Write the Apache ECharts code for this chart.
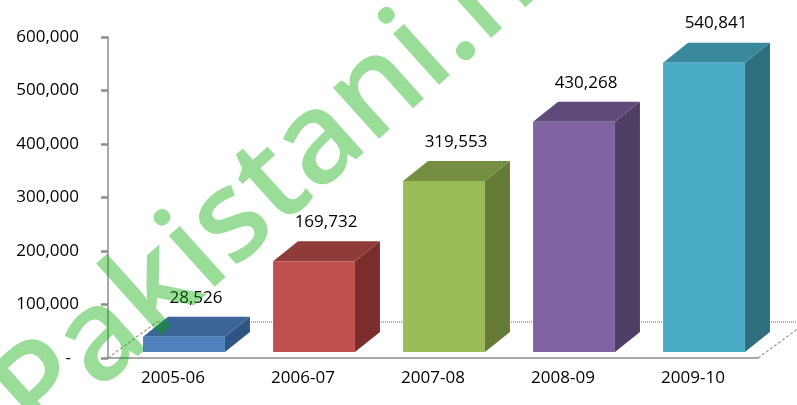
<!DOCTYPE html>
<html>
<head>
<meta charset="utf-8">
<title>Column chart</title>
<style>
  html, body { margin: 0; padding: 0; background: #fff; }
  #main { width: 797px; height: 405px; }
</style>
</head>
<body>
<div id="main"></div>
<script src="https://cdn.jsdelivr.net/npm/echarts@6/dist/echarts.min.js"></script>
<script>
// data
var years = ['2005-06', '2006-07', '2007-08', '2008-09', '2009-10'];
var values = [28526, 169732, 319553, 430268, 540841];
var yTicks = [0, 100000, 200000, 300000, 400000, 500000, 600000];

// front / top / side colours of each 3D column
var frontColors = ['#4f81bd', '#c0504d', '#9bbb59', '#8064a2', '#4bacc6'];
var topColors   = ['#3c6598', '#8f3b39', '#758e42', '#5f4b7b', '#3a889c'];
var sideColors  = ['#2f5383', '#7a2d2b', '#647a36', '#4e3e66', '#2f6e7f'];

var font = '"Open Sans", "Noto Sans", sans-serif';
var myChart = echarts.init(document.getElementById('main'));

function fmt(v) {
  return v.toLocaleString('en-US');
}

// one column: front face, top face, side face, value label
function renderBar(params, api) {
  var i = api.value(0);
  var v = api.value(1);
  var base = api.coord([i, 0]);
  var top = api.coord([i, v]);
  var band = api.size([1, 0])[0];
  var w = band * 0.63;
  var dx = 25, dy = -20;
  var cx = base[0] + 11;
  var x0 = cx - w / 2, x1 = cx + w / 2;
  var yb = base[1] - 6, yt = top[1] - 6;
  return {
    type: 'group',
    children: [
      {
        type: 'polygon',
        shape: { points: [[x1, yt], [x1 + dx, yt + dy], [x1 + dx, yb + dy], [x1, yb]] },
        style: { fill: sideColors[i] }
      },
      {
        type: 'polygon',
        shape: { points: [[x0, yt], [x0 + dx, yt + dy], [x1 + dx, yt + dy], [x1, yt]] },
        style: { fill: topColors[i] }
      },
      {
        type: 'rect',
        shape: { x: x0, y: yt, width: w, height: yb - yt },
        style: { fill: frontColors[i] }
      },
      {
        type: 'text',
        style: {
          x: cx + 12, y: yt + dy - 19,
          text: fmt(v),
          fill: '#000',
          font: '17px ' + font,
          align: 'center',
          verticalAlign: 'middle'
        }
      }
    ]
  };
}

// floor: left / right depth edges and the dotted back edge
function renderFloor(params, api) {
  var first = api.coord([0, 0]);
  var band = api.size([1, 0])[0];
  var left = first[0] - band / 2;
  var right = left + band * years.length;
  var y = first[1];
  var ddx = 49, ddy = -36;
  var line = { stroke: '#9a9a9a', lineWidth: 1.2, lineDash: [3, 2] };
  return {
    type: 'group',
    children: [
      { type: 'line', shape: { x1: left, y1: y, x2: left + ddx, y2: y + ddy }, style: line },
      { type: 'line', shape: { x1: right, y1: y, x2: right + ddx, y2: y + ddy }, style: line },
      { type: 'line', shape: { x1: left + ddx, y1: y + ddy, x2: right + ddx, y2: y + ddy },
        style: { stroke: '#b0b0b0', lineWidth: 2, lineDash: [1, 1] } }
    ]
  };
}

var barData = values.map(function (v, i) { return [i, v]; });

myChart.setOption({
  backgroundColor: '#fff',
  animation: false,
  grid: { left: 108, right: 39, top: 37, bottom: 47 },
  xAxis: {
    type: 'category',
    data: years,
    boundaryGap: true,
    axisLine: { lineStyle: { color: '#8c8c8c', width: 1.5 } },
    axisTick: { length: 6, lineStyle: { color: '#8c8c8c', width: 2 } },
    axisLabel: { margin: 12, color: '#000', fontSize: 17, fontFamily: font }
  },
  yAxis: {
    type: 'value',
    min: yTicks[0],
    max: yTicks[yTicks.length - 1],
    interval: yTicks[1] - yTicks[0],
    axisLine: { show: true, lineStyle: { color: '#8c8c8c', width: 1.5 } },
    axisTick: { show: true, length: 7, lineStyle: { color: '#8c8c8c', width: 2.5 } },
    splitLine: { show: false },
    axisLabel: {
      margin: 29, color: '#000', fontSize: 17, fontFamily: font,
      formatter: function (v) { return v === 0 ? '{d|-}' : fmt(v); },
      rich: { d: { fontSize: 17, fontFamily: font, color: '#000', padding: [0, 8, 0, 0] } }
    }
  },
  graphic: [
    {
      // watermark
      type: 'text',
      x: 16, y: 417,
      rotation: 42 * Math.PI / 180,
      z: 100,
      silent: true,
      style: {
        text: 'Pakistani.net',
        font: '600 127px "Open Sans", sans-serif',
        fill: 'rgba(0,170,0,0.4)',
        align: 'left',
        verticalAlign: 'middle'
      }
    }
  ],
  series: [
    { type: 'custom', renderItem: renderFloor, data: [[0, 0]], z: 1, silent: true },
    { type: 'custom', renderItem: renderBar, data: barData, z: 2 }
  ]
});
</script>
</body>
</html>
